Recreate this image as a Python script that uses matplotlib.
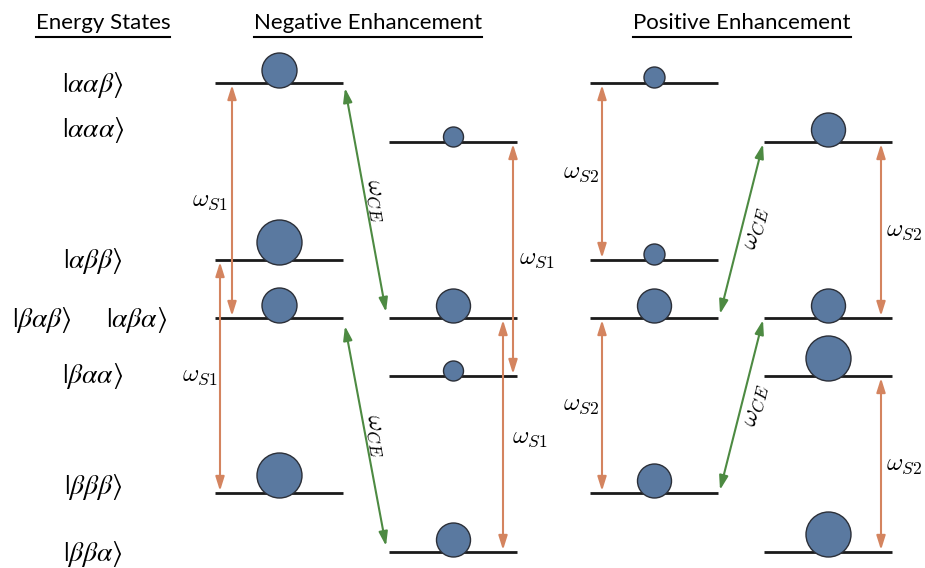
import matplotlib.pyplot as plt
from matplotlib.patches import Circle

# Energy levels (y in canvas pixels, top = 0) and populations (circle radius)
state_labels = [r"$|\alpha\alpha\beta\rangle$", r"$|\alpha\alpha\alpha\rangle$",
                r"$|\alpha\beta\beta\rangle$", r"$|\beta\alpha\beta\rangle$",
                r"$|\alpha\beta\alpha\rangle$", r"$|\beta\alpha\alpha\rangle$",
                r"$|\beta\beta\beta\rangle$", r"$|\beta\beta\alpha\rangle$"]
state_label_x = [93, 93, 93, 42, 137, 93, 93, 93]
state_label_y = [85, 130, 261, 320, 320, 376, 487, 554]

upper_levels = [83, 260, 318, 493]   # ααβ, αββ, αβα/βαβ, βββ
lower_levels = [142, 318, 376, 552]  # ααα, αβα/βαβ, βαα, ββα

neg_left_pop = [17.5, 22.5, 17.5, 22.5]
neg_right_pop = [10, 17, 10, 17]
pos_left_pop = [10.5, 10.5, 17, 17]
pos_right_pop = [17, 17, 22.5, 22.5]

columns = [
    (215, 343, upper_levels, neg_left_pop),
    (389, 517, lower_levels, neg_right_pop),
    (590, 718, upper_levels, pos_left_pop),
    (764, 892, lower_levels, pos_right_pop),
]

orange = "#d4845f"
green = "#4d8a42"
blob = "#5a79a0"

fig = plt.figure(figsize=(9.25, 5.68), dpi=100)
ax = fig.add_axes([0, 0, 1, 1])
ax.set_xlim(0, 925)
ax.set_ylim(568, 0)
ax.set_axis_off()

# levels with population circles
for x0, x1, ys, pops in columns:
    xc = (x0 + x1) / 2 + 0.5
    for y, r in zip(ys, pops):
        ax.plot([x0, x1], [y, y], color="#1a1a1a", lw=2, solid_capstyle="butt", zorder=2)
        ax.add_patch(Circle((xc, y - r + 5), r, facecolor=blob,
                            edgecolor="#2b2f38", lw=1, zorder=3))


def arrow(x0, y0, x1, y1, color):
    ax.annotate("", xy=(x1, y1), xytext=(x0, y0),
                arrowprops=dict(arrowstyle="<|-|>,head_length=0.7,head_width=0.22",
                                color=color, lw=1.5, shrinkA=0, shrinkB=0,
                                mutation_scale=12))


# spin flips (orange) and cross-effect transitions (green)
arrow(232, 85, 232, 316, orange)
arrow(220, 262, 220, 491, orange)
arrow(513, 144, 513, 374, orange)
arrow(503, 320, 503, 550, orange)
arrow(602, 85, 602, 258, orange)
arrow(602, 320, 602, 491, orange)
arrow(881, 144, 881, 316, orange)
arrow(881, 378, 881, 550, orange)

arrow(345, 88, 386, 312, green)
arrow(345, 326, 386, 546, green)
arrow(720, 314, 763, 144, green)
arrow(720, 490, 763, 320, green)

wfont = dict(fontsize=18, math_fontfamily="cm", ha="center", va="center")
ax.text(210, 200, r"$\omega_{S1}$", **wfont)
ax.text(200, 375, r"$\omega_{S1}$", **wfont)
ax.text(537, 258, r"$\omega_{S1}$", **wfont)
ax.text(530, 437, r"$\omega_{S1}$", **wfont)
ax.text(581, 172, r"$\omega_{S2}$", **wfont)
ax.text(581, 404, r"$\omega_{S2}$", **wfont)
ax.text(904, 230, r"$\omega_{S2}$", **wfont)
ax.text(904, 464, r"$\omega_{S2}$", **wfont)
ax.text(377, 200, r"$\omega_{CE}$", rotation=-80, **wfont)
ax.text(377, 435, r"$\omega_{CE}$", rotation=-80, **wfont)
ax.text(755, 228, r"$\omega_{CE}$", rotation=76, **wfont)
ax.text(755, 405, r"$\omega_{CE}$", rotation=76, **wfont)

for lab, x, y in zip(state_labels, state_label_x, state_label_y):
    ax.text(x, y, lab, fontsize=20, math_fontfamily="stix", ha="center", va="center")

# underlined section headings
headings = [("Energy States", 103), ("Negative Enhancement", 368), ("Positive Enhancement", 742)]
heads = [ax.text(x, 23, t, fontsize=16, family="Lato", ha="center", va="center")
         for t, x in headings]
fig.canvas.draw()
inv = ax.transData.inverted()
for h in heads:
    bb = h.get_window_extent()
    (xa, _), (xb, _) = inv.transform([(bb.x0, bb.y0), (bb.x1, bb.y0)])
    ax.plot([xa, xb], [37, 37], color="black", lw=1.5)

fig.savefig("out.png", dpi=100)
